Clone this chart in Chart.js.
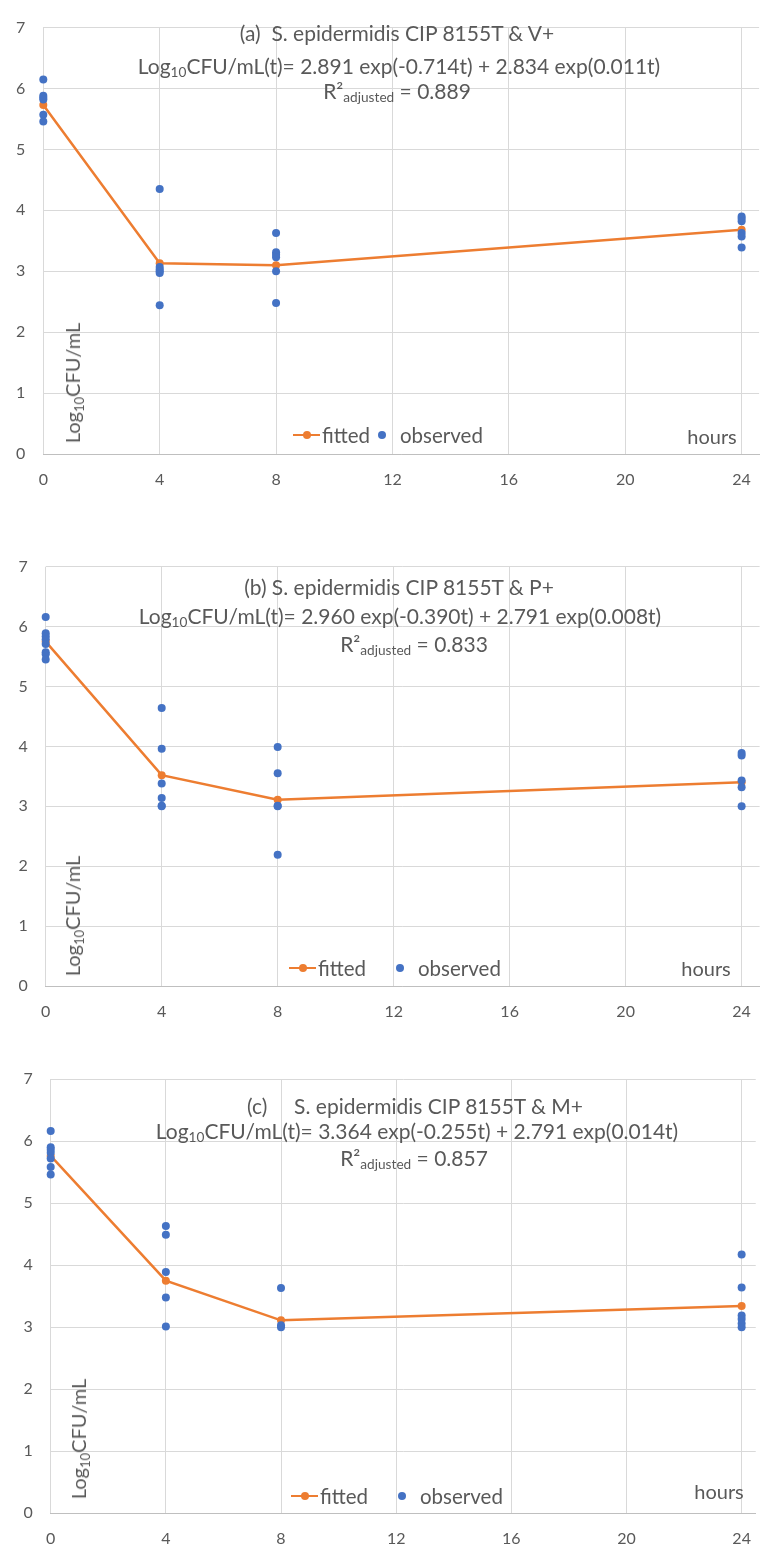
<!DOCTYPE html>
<html>
<head>
<meta charset="utf-8">
<script src="https://cdn.jsdelivr.net/npm/chart.js@4.4.8/dist/chart.umd.min.js"></script>
<style>
  body { margin: 0; background: #fff; }
  #page { position: relative; width: 767px; height: 1546px; overflow: hidden; font-family: Lato, sans-serif; color: #595959; }
  canvas { position: absolute; left: 0; }
  .txt { position: absolute; white-space: pre; line-height: 1; transform: translate(-50%, -50%); }
  .title { font-size: 21px; }
  .lab { font-size: 20px; }
  sub { font-size: 0.65em; vertical-align: -0.28em; line-height: 0; }
  .ytitle { position: absolute; font-size: 20px; white-space: pre; line-height: 1; transform: translate(-50%, -50%) rotate(-90deg); }
  .sw-line { position: absolute; height: 2.5px; background: #ED7D31; }
  .dot { position: absolute; width: 8px; height: 8px; border-radius: 50%; transform: translate(-50%, -50%); }
  .leg { position: absolute; font-size: 20.5px; line-height: 1; transform: translateY(-50%); white-space: pre; }
</style>
</head>
<body>
<div id="page"></div>
<script>
// hours on the x axis
const xTicks = [0, 4, 8, 12, 16, 20, 24];
const yTicks = [0, 1, 2, 3, 4, 5, 6, 7];
const tFit = [0, 4, 8, 24];
const tObs = [0, 4, 8, 24];

// fitted curves
const fitA = [5.73, 3.13, 3.10, 3.68];
const fitB = [5.75, 3.52, 3.11, 3.40];
const fitC = [5.76, 3.75, 3.11, 3.34];

// observed replicates, one list per time point
const obsA = [
  [6.15, 5.88, 5.85, 5.82, 5.57, 5.46],
  [4.35, 3.07, 3.03, 3.00, 2.97, 2.44],
  [3.63, 3.31, 3.27, 3.23, 3.00, 2.48],
  [3.90, 3.86, 3.82, 3.63, 3.57, 3.39]
];
const obsB = [
  [6.16, 5.89, 5.84, 5.79, 5.71, 5.57, 5.54, 5.45],
  [4.64, 3.96, 3.38, 3.14, 3.01, 3.00],
  [3.99, 3.55, 3.01, 3.00, 2.19],
  [3.89, 3.85, 3.43, 3.32, 3.00]
];
const obsC = [
  [6.16, 5.90, 5.86, 5.81, 5.72, 5.58, 5.46],
  [4.63, 4.49, 3.89, 3.48, 3.01],
  [3.63, 3.03, 3.00],
  [4.17, 3.64, 3.19, 3.13, 3.06, 3.00]
];

const titlesA = ['(a)  S. epidermidis CIP 8155T & V+', 'Log<sub>10</sub>CFU/mL(t)= 2.891 exp(-0.714t) + 2.834 exp(0.011t)', 'R²<sub>adjusted</sub> = 0.889'];
const titlesB = ['(b) S. epidermidis CIP 8155T & P+', 'Log<sub>10</sub>CFU/mL(t)= 2.960 exp(-0.390t) + 2.791 exp(0.008t)', 'R²<sub>adjusted</sub> = 0.833'];
const titlesC = ['(c)     S. epidermidis CIP 8155T & M+', 'Log<sub>10</sub>CFU/mL(t)= 3.364 exp(-0.255t) + 2.791 exp(0.014t)', 'R²<sub>adjusted</sub> = 0.857'];

const seriesNames = ['fitted', 'observed'];
const yTitle = 'Log<sub>10</sub>CFU/mL';
const xTitle = 'hours';

const ORANGE = '#ED7D31';
const BLUE = '#4472C4';

// layout of the three panels, page pixels
const panels = [
  { fit: fitA, obs: obsA, titles: titlesA, top: 0, h: 500, left: 43.3, areaTop: 19, areaBottom: 454, xMax: 24.6,
    titlePos: [[397, 32], [399, 65], [397, 90]], legY: 435, legFit: 293, legObs: 382, hours: [712, 436], yt: [72, 383] },
  { fit: fitB, obs: obsB, titles: titlesB, top: 500, h: 540, left: 45.7, areaTop: 66.7, areaBottom: 486, xMax: 24.62,
    titlePos: [[399, 586], [400, 615], [414, 643]], legY: 968, legFit: 289, legObs: 400, hours: [706, 968], yt: [72, 916] },
  { fit: fitC, obs: obsC, titles: titlesC, top: 1040, h: 506, left: 50.7, areaTop: 39, areaBottom: 473.3, xMax: 24.49,
    titlePos: [[415, 1105], [417, 1130], [414, 1157]], legY: 1496, legFit: 291, legObs: 402, hours: [719, 1491], yt: [78, 1439] }
];

const page = document.getElementById('page');

function addDiv(cls, html, x, y, extra) {
  const d = document.createElement('div');
  d.className = cls;
  d.innerHTML = html;
  d.style.left = x + 'px';
  d.style.top = y + 'px';
  if (extra) Object.assign(d.style, extra);
  page.appendChild(d);
  return d;
}

function makePanel(p) {
  const cv = document.createElement('canvas');
  cv.width = 767;
  cv.height = p.h;
  cv.style.top = p.top + 'px';
  cv.style.width = '767px';
  cv.style.height = p.h + 'px';
  page.appendChild(cv);

  const fitPts = tFit.map((t, i) => ({ x: t, y: p.fit[i] }));
  const obsPts = [];
  tObs.forEach((t, i) => p.obs[i].forEach(v => obsPts.push({ x: t, y: v })));

  new Chart(cv, {
    type: 'scatter',
    data: {
      datasets: [
        { label: seriesNames[0], data: fitPts, showLine: true, borderColor: ORANGE, backgroundColor: ORANGE,
          borderWidth: 2.5, pointRadius: 4, pointBorderWidth: 0, clip: false, order: 1 },
        { label: seriesNames[1], data: obsPts, backgroundColor: BLUE, borderWidth: 0,
          pointRadius: 4, clip: false, order: 0 }
      ]
    },
    options: {
      responsive: false,
      animation: false,
      devicePixelRatio: 1,
      layout: { padding: { left: 0, right: 0, top: p.areaTop, bottom: 0 } },
      plugins: { legend: { display: false }, tooltip: { enabled: false } },
      scales: {
        x: {
          type: 'linear', min: 0, max: p.xMax,
          afterBuildTicks: s => { s.ticks = xTicks.map(v => ({ value: v })); },
          afterFit: s => { s.height = p.h - p.areaBottom; },
          grid: { color: '#D9D9D9', drawTicks: false },
          border: { color: '#BFBFBF' },
          ticks: { padding: 16, color: '#595959', font: { family: 'Lato', size: 16 } }
        },
        y: {
          min: 0, max: 7,
          afterBuildTicks: s => { s.ticks = yTicks.map(v => ({ value: v })); },
          afterFit: s => { s.width = p.left; },
          grid: { color: '#D9D9D9', drawTicks: false },
          border: { display: false },
          ticks: { padding: 18, color: '#595959', font: { family: 'Lato', size: 16 } }
        }
      }
    }
  });

  p.titles.forEach((t, i) => addDiv('txt title', t, p.titlePos[i][0], p.titlePos[i][1]));
  addDiv('ytitle', yTitle, p.yt[0], p.yt[1]);
  addDiv('txt lab', xTitle, p.hours[0], p.hours[1]);

  // legend: orange line with marker, blue marker
  addDiv('sw-line', '', p.legFit, p.legY - 1.25, { width: '27px' });
  addDiv('dot', '', p.legFit + 13.5, p.legY, { background: ORANGE });
  addDiv('leg', seriesNames[0], p.legFit + 29, p.legY);
  addDiv('dot', '', p.legObs, p.legY, { background: BLUE });
  addDiv('leg', seriesNames[1], p.legObs + 18, p.legY);
}

panels.forEach(makePanel);
</script>
</body>
</html>
